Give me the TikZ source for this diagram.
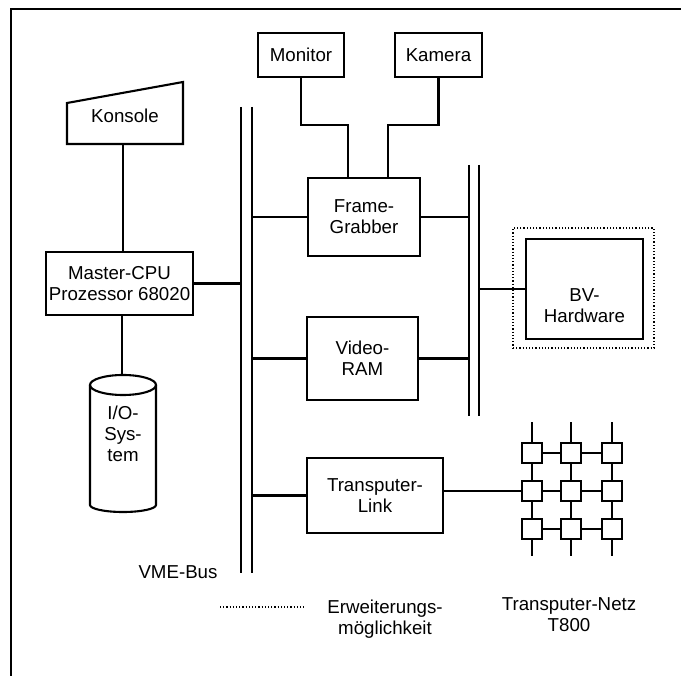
\documentclass[tikz,border=0pt]{standalone}
\usepackage{fontspec}
\setmainfont{Liberation Sans}
\begin{document}
\begin{tikzpicture}[x=1pt,y=-1pt,
  line width=2.1pt,
  txt/.style={font=\fontsize{18.7}{21}\selectfont, align=center, inner sep=0pt},
  box/.style={draw, txt, line width=2.1pt, fill=white},
  gbox/.style={draw, fill=white, minimum width=20, minimum height=20, inner sep=0pt, line width=2.1pt},
  busline/.style={line width=2.1pt},
  dots/.style={dotted, line width=1.2pt}
]
\useasboundingbox (0,0) rectangle (681,676);
% frame
\draw[line width=2.4pt] (11,676) -- (11,9) -- (681,9);

% top boxes
\node[box, minimum width=86, minimum height=44] (mon) at (301,55) {Monitor};
\node[box, minimum width=87, minimum height=44] (kam) at (438.5,55) {Kamera};

% Konsole
\node[txt] (kon) at (125,116) {Konsole};
\draw (67,144) -- (67,103) -- (183,82) -- (183,144) -- cycle;
\coordinate (konb) at (123,144);

% Master CPU
\node[box, minimum width=147, minimum height=63] (cpu) at (119.5,283.5) {Master-CPU\\Prozessor 68020};

% I/O cylinder
\coordinate (iotop) at (122,375);
\draw (123,385) ellipse [x radius=33, y radius=10];
\draw (90,385) -- (90,505) arc[start angle=180, end angle=360, x radius=33, y radius=-7] -- (156,385);
\node[txt] (io) at (123,434) {I/O-\\Sys-\\tem};

% VME bus
\coordinate (b1a) at (241,107);
\coordinate (b1b) at (252,107);
\draw[busline] (b1a) -- (241,573);
\draw[busline] (b1b) -- (252,573);
\node[txt] (vme) at (178,572) {VME-Bus};

% second bus
\coordinate (b2a) at (469,165);
\coordinate (b2b) at (479,165);
\draw[busline] (b2a) -- (469,416);
\draw[busline] (b2b) -- (479,416);

% middle boxes
\node[box, minimum width=112, minimum height=78] (fg) at (364,217) {Frame-\\Grabber};
\node[box, minimum width=111, minimum height=83] (vram) at (362.5,358.5) {Video-\\RAM};
\node[box, minimum width=136, minimum height=75] (tl) at (375,495.5) {Transputer-\\Link};

% BV hardware
\node[draw, dots, minimum width=141, minimum height=120, inner sep=0pt] (bvx) at (583.5,288) {};
\node[draw, line width=2.1pt, minimum width=117, minimum height=100, inner sep=0pt] (bv) at (584.5,289) {};
\node[txt] (bvt) at (584.5,306) {BV-\\Hardware};

% grid
\foreach \r/\y in {1/453,2/491,3/529}{
  \foreach \c/\x in {1/532,2/571,3/612}{
    \node[gbox] (g\r\c) at (\x,\y) {};
  }
}

% connectors
\draw (konb) -- (konb |- cpu.north);
\draw (cpu.east) -- (cpu.east -| b1a);
\draw (cpu.south -| iotop) -- (iotop);

\draw (mon.south) -- ++(0,47) -| ([xshift=-16]fg.north);
\draw (kam.south) -- ++(0,47) -| ([xshift=24]fg.north);

\draw (b1b |- fg.west) -- (fg.west);
\draw (fg.east) -- (fg.east -| b2a);
\draw (b1b |- vram.west) -- (vram.west);
\draw (vram.east) -- (vram.east -| b2a);
\draw (b1b |- tl.west) -- (tl.west);
\draw (tl.east |- g21.west) -- (g21.west);
\draw (b2b |- bv.west) -- (bv.west);

\foreach \c in {1,2,3}{
  \draw (g1\c.north) -- ++(0,-20);
  \draw (g1\c.south) -- (g2\c.north);
  \draw (g2\c.south) -- (g3\c.north);
  \draw (g3\c.south) -- ++(0,16);
}
\foreach \r in {1,2,3}{
  \draw (g\r1.east) -- (g\r2.west);
  \draw (g\r2.east) -- (g\r3.west);
}

% legend
\coordinate (lega) at (220,607);
\coordinate (legb) at (305,607);
\draw[dots] (lega) -- (legb);
\node[txt] (erw) at (385,619) {Erweiterungs-\\möglichkeit};
\node[txt] (tn) at (569,615) {Transputer-Netz\\T800};
\end{tikzpicture}
\end{document}
